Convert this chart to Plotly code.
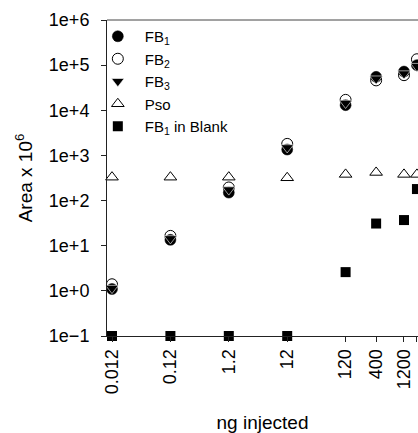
import plotly.graph_objects as go

ng_injected = [0.012, 0.12, 1.2, 12, 120, 400, 1200, 2000]
x_tick_labels = ["0.012", "0.12", "1.2", "12", "120", "400", "1200", "2000"]

fb1 = [1.1, 13.5, 150, 1350, 13000, 55000, 72000, 100000]
fb2 = [1.4, 16.5, 195, 1800, 17000, 46000, 60000, 135000]
fb3 = [1.15, 14.5, 175, 1500, 14500, 50000, 65000, 95000]
pso = [330, 330, 330, 320, 380, 420, 380, 380]
fb1_blank = [0.1, 0.1, 0.1, 0.1, 2.6, 31, 37, 180]

y_tick_vals = [0.1, 1, 10, 100, 1000, 1e4, 1e5, 1e6]
y_tick_labels = ["1e\u22121", "1e+0", "1e+1", "1e+2", "1e+3", "1e+4", "1e+5", "1e+6"]

fig = go.Figure()

fig.add_trace(go.Scatter(
    x=ng_injected, y=fb2, mode="markers", name="FB<sub>2</sub>", legendrank=2,
    marker=dict(symbol="circle", size=11, color="white", line=dict(color="black", width=1)),
    cliponaxis=False))
fig.add_trace(go.Scatter(
    x=ng_injected, y=fb1, mode="markers", name="FB<sub>1</sub>", legendrank=1,
    marker=dict(symbol="circle", size=11, color="black", line=dict(color="black", width=0.5)),
    cliponaxis=False))
fig.add_trace(go.Scatter(
    x=ng_injected, y=fb3, mode="markers", name="FB<sub>3</sub>", legendrank=3,
    marker=dict(symbol="triangle-down", size=11, color="black", line=dict(color="white", width=0.6)),
    cliponaxis=False))
fig.add_trace(go.Scatter(
    x=ng_injected, y=pso, mode="markers", name="Pso", legendrank=4,
    marker=dict(symbol="triangle-up", size=11, color="white", line=dict(color="black", width=1)),
    cliponaxis=False))
fig.add_trace(go.Scatter(
    x=ng_injected, y=fb1_blank, mode="markers", name="FB<sub>1</sub> in Blank", legendrank=5,
    marker=dict(symbol="square", size=10, color="black", line=dict(width=0)),
    cliponaxis=False))

fig.update_layout(
    width=418, height=433,
    margin=dict(l=107, r=0, t=20, b=97),
    plot_bgcolor="white", paper_bgcolor="white",
    font=dict(family="Liberation Sans, Arial, sans-serif", color="black", size=18),
    showlegend=True,
    legend=dict(x=-0.052, y=1.0, xanchor="left", yanchor="top",
                bgcolor="rgba(0,0,0,0)", itemwidth=44,
                font=dict(size=15), tracegroupgap=0),
    shapes=[dict(type="line", xref="paper", yref="paper", x0=0, x1=1, y0=1, y1=1,
                 line=dict(color="#444", width=1))],
)

fig.update_xaxes(
    type="log", range=[-2.0064, 3.319],
    tickvals=ng_injected, ticktext=x_tick_labels, tickangle=-90,
    ticks="outside", ticklen=5, tickcolor="#222", tickfont=dict(size=18),
    showline=True, linecolor="#222", linewidth=1,
    showgrid=False, zeroline=False,
    title=dict(text="ng injected", font=dict(size=19), standoff=22),
)
fig.update_yaxes(
    type="log", range=[-1, 6],
    tickvals=y_tick_vals, ticktext=y_tick_labels,
    ticks="outside", ticklen=5, tickcolor="#222", tickfont=dict(size=18),
    ticklabelstandoff=8,
    showline=True, linecolor="#222", linewidth=1,
    showgrid=False, zeroline=False,
    title=dict(text="Area x 10<sup>6</sup>", font=dict(size=19), standoff=11),
)

fig.write_html("out.html",
               config={"displayModeBar": False},
               post_script="document.body.style.margin='0px';document.body.style.overflow='hidden';")
